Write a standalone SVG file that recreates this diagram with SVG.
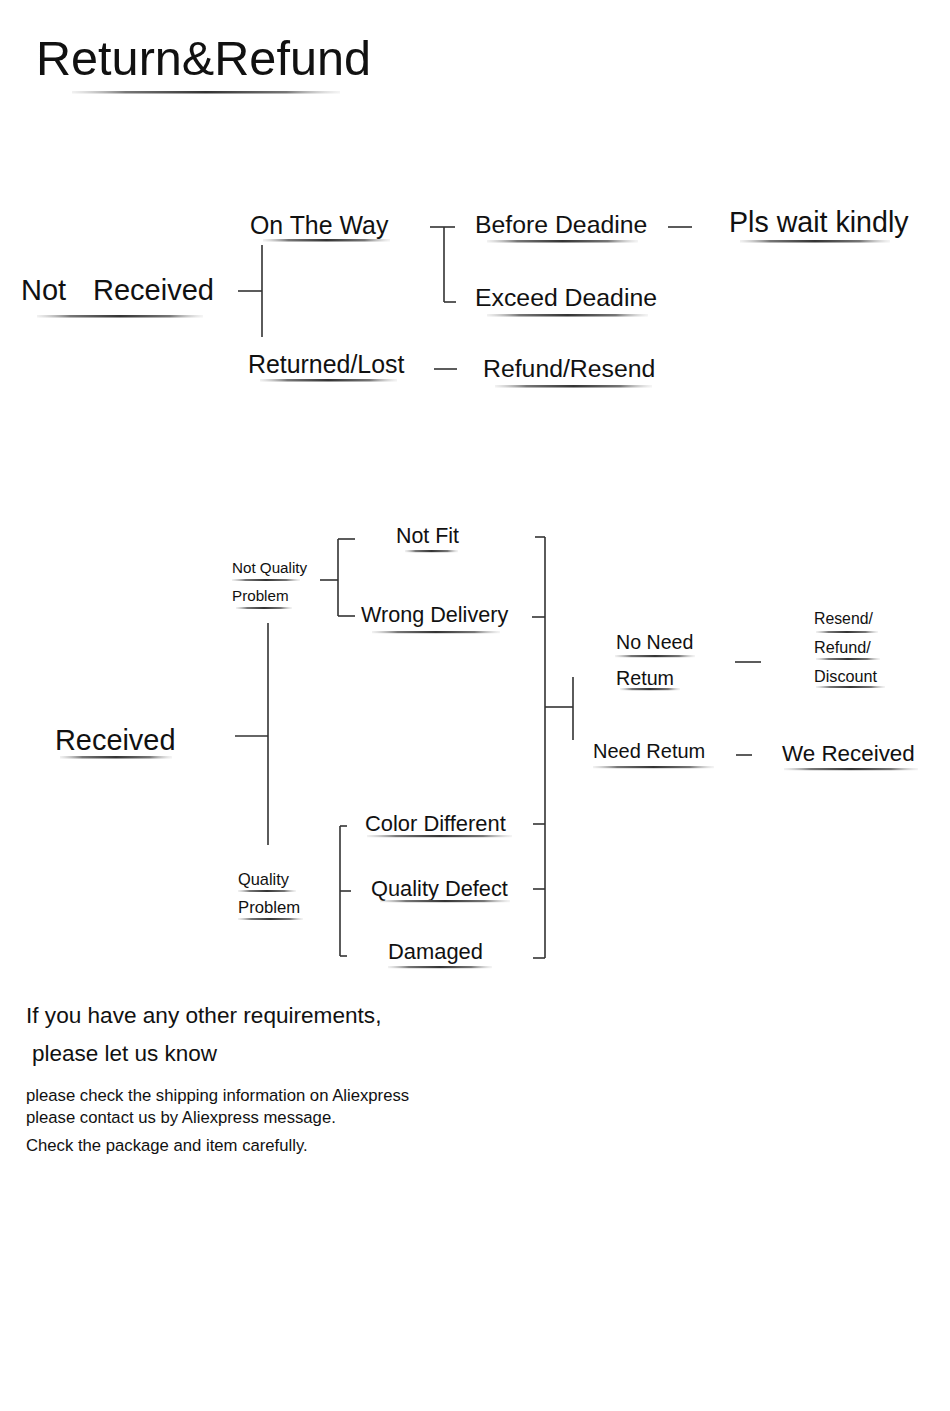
<svg xmlns="http://www.w3.org/2000/svg" width="950" height="1411" viewBox="0 0 950 1411">
<defs>
<linearGradient id="ul" x1="0" y1="0" x2="1" y2="0">
<stop offset="0" stop-color="#bbb" stop-opacity="0.2"/>
<stop offset="0.2" stop-color="#777"/>
<stop offset="0.5" stop-color="#333"/>
<stop offset="0.8" stop-color="#777"/>
<stop offset="1" stop-color="#ccc" stop-opacity="0.2"/>
</linearGradient>
<style>
text{font-family:"Liberation Sans",Arial,Helvetica,sans-serif;fill:#111}
.u{fill:url(#ul)}
.c line{stroke:#333;stroke-width:1.6;fill:none}
</style>
</defs>
<rect width="950" height="1411" fill="#fff"/>

<g id="title">
<text x="36" y="75" font-size="48.6">Return&amp;Refund</text>
<rect class="u" x="72" y="91" width="268" height="2.5"/>
</g>

<g id="not-received">
<text y="300" font-size="29"><tspan x="21">Not</tspan><tspan x="93">Received</tspan></text>
<rect class="u" x="37" y="315" width="166" height="2.5"/>
</g>
<g id="on-the-way">
<text x="250" y="234" font-size="24.9">On The Way</text>
<rect class="u" x="263" y="239" width="127" height="2.5"/>
</g>
<g id="returned-lost">
<text x="248" y="373" font-size="24.9">Returned/Lost</text>
<rect class="u" x="260" y="379" width="137" height="2.5"/>
</g>
<g id="before-deadline">
<text x="475" y="233" font-size="24.8">Before Deadine</text>
<rect class="u" x="487" y="240" width="151" height="2.5"/>
</g>
<g id="exceed-deadline">
<text x="475" y="306" font-size="24.8">Exceed Deadine</text>
<rect class="u" x="487" y="314" width="161" height="2.5"/>
</g>
<g id="pls-wait">
<text x="729" y="232" font-size="28.6">Pls wait kindly</text>
<rect class="u" x="740" y="240" width="150" height="2.5"/>
</g>
<g id="refund-resend">
<text x="483" y="377" font-size="24.8">Refund/Resend</text>
<rect class="u" x="495" y="385" width="157" height="2.5"/>
</g>

<g id="received">
<text x="55" y="750" font-size="28.9">Received</text>
<rect class="u" x="60" y="756" width="112" height="2.5"/>
</g>
<g id="not-quality-problem">
<text x="232" y="573" font-size="15.2">Not Quality</text>
<rect class="u" x="232" y="579" width="68" height="2"/>
<text x="232" y="601" font-size="15.2">Problem</text>
<rect class="u" x="236" y="607" width="56" height="2"/>
</g>
<g id="quality-problem">
<text x="238" y="885" font-size="16.4">Quality</text>
<rect class="u" x="238" y="890" width="58" height="2"/>
<text x="238" y="913" font-size="16.7">Problem</text>
<rect class="u" x="238" y="918" width="65" height="2"/>
</g>
<g id="not-fit">
<text x="396" y="543" font-size="21.4">Not Fit</text>
<rect class="u" x="405" y="550" width="53" height="2.2"/>
</g>
<g id="wrong-delivery">
<text x="361" y="622" font-size="21.6">Wrong Delivery</text>
<rect class="u" x="372" y="631" width="128" height="2.2"/>
</g>
<g id="color-different">
<text x="365" y="831" font-size="21.9">Color Different</text>
<rect class="u" x="367" y="835" width="145" height="2.2"/>
</g>
<g id="quality-defect">
<text x="371" y="896" font-size="21.8">Quality Defect</text>
<rect class="u" x="380" y="900" width="130" height="2.2"/>
</g>
<g id="damaged">
<text x="388" y="959" font-size="21.9">Damaged</text>
<rect class="u" x="388" y="966" width="104" height="2.2"/>
</g>
<g id="no-need-return">
<text x="616" y="649" font-size="19.6">No Need</text>
<rect class="u" x="615" y="655" width="80" height="2.2"/>
<text x="616" y="685" font-size="19.7">Retum</text>
<rect class="u" x="620" y="688" width="60" height="2.2"/>
</g>
<g id="need-return">
<text x="593" y="758" font-size="20">Need Retum</text>
<rect class="u" x="593" y="766" width="121" height="2.2"/>
</g>
<g id="resend-refund-discount">
<text x="814" y="624" font-size="15.8">Resend/</text>
<rect class="u" x="816" y="631" width="62" height="2"/>
<text x="814" y="653" font-size="16.2">Refund/</text>
<rect class="u" x="816" y="658" width="64" height="2"/>
<text x="814" y="682" font-size="16.2">Discount</text>
<rect class="u" x="816" y="686" width="69" height="2"/>
</g>
<g id="we-received">
<text x="782" y="761" font-size="22.4">We Received</text>
<rect class="u" x="784" y="768" width="134" height="2.2"/>
</g>

<g id="connectors" class="c">
<line x1="238" y1="291" x2="262" y2="291"/>
<line x1="262" y1="245" x2="262" y2="337"/>
<line x1="430" y1="227" x2="455" y2="227"/>
<line x1="444" y1="227" x2="444" y2="302"/>
<line x1="444" y1="302" x2="456" y2="302"/>
<line x1="668" y1="227" x2="692" y2="227"/>
<line x1="434" y1="369" x2="457" y2="369"/>

<line x1="235" y1="736" x2="268" y2="736"/>
<line x1="268" y1="623" x2="268" y2="845"/>
<line x1="320" y1="580" x2="338" y2="580"/>
<line x1="338" y1="539" x2="338" y2="616"/>
<line x1="338" y1="539" x2="355" y2="539"/>
<line x1="338" y1="616" x2="355" y2="616"/>
<line x1="340" y1="826" x2="340" y2="956"/>
<line x1="340" y1="826" x2="347" y2="826"/>
<line x1="340" y1="891" x2="351" y2="891"/>
<line x1="340" y1="956" x2="347" y2="956"/>

<line x1="535" y1="537" x2="545" y2="537"/>
<line x1="545" y1="537" x2="545" y2="958"/>
<line x1="532" y1="617" x2="545" y2="617"/>
<line x1="533" y1="824" x2="545" y2="824"/>
<line x1="533" y1="889" x2="545" y2="889"/>
<line x1="533" y1="958" x2="545" y2="958"/>
<line x1="545" y1="707" x2="573" y2="707"/>
<line x1="573" y1="677" x2="573" y2="740"/>
<line x1="735" y1="662" x2="761" y2="662"/>
<line x1="736" y1="755" x2="752" y2="755"/>
</g>

<g id="footer">
<text x="26" y="1023" font-size="22.6">If you have any other requirements,</text>
<text x="32" y="1061" font-size="22.5">please let us know</text>
<text x="26" y="1101" font-size="16.7">please check the shipping information on Aliexpress</text>
<text x="26" y="1123" font-size="16.7">please contact us by Aliexpress message.</text>
<text x="26" y="1151" font-size="16.7">Check the package and item carefully.</text>
</g>
</svg>
